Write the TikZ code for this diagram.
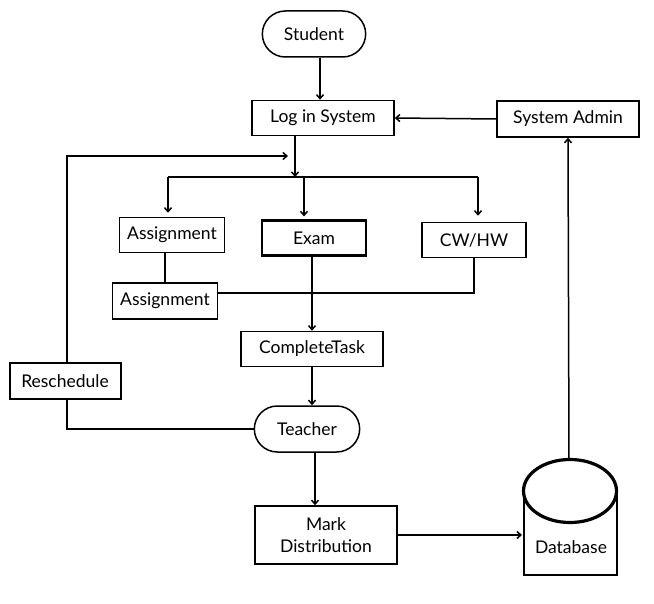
\documentclass[tikz,border=0pt]{standalone}
\usepackage{fontspec}
\setmainfont{Lato}
\usetikzlibrary{shapes.misc,calc}
\tikzset{
  box/.style={draw, line width=1.5pt, minimum height=35pt, inner sep=2pt, font=\fontsize{17.5}{22}\selectfont},
  pill/.style={draw, rounded rectangle, line width=1.5pt, minimum width=110pt, minimum height=46pt, font=\fontsize{17.5}{22}\selectfont},
  arr/.style={->, >={Straight Barb[length=4pt,width=7pt]}, line width=1.5pt},
  con/.style={line width=1.5pt}
}
\usetikzlibrary{arrows.meta}
\begin{document}
\begin{tikzpicture}[x=1pt, y=-1pt]
    \useasboundingbox (0,0) rectangle (654,604);
    % nodes
    \node[pill] (student) at (314,34) {Student};
    \node[box, minimum width=142pt] (login) at (323,118) {Log in System};
    \node[box, minimum width=142pt, minimum height=36pt] (admin) at (568,119) {System Admin};
    \node[box, minimum width=105pt] (asg1) at (172,235) {Assignment};
    \node[box, minimum width=104pt, line width=2.2pt] (exam) at (314,238) {Exam};
    \node[box, minimum width=104pt] (cwhw) at (474,240) {CW/HW};
    \node[box, minimum width=105pt, minimum height=36pt] (asg2) at (165,301) {Assignment};
    \node[box, minimum width=142pt] (task) at (312,349) {CompleteTask};
    \node[box, minimum width=111pt, minimum height=36pt, line width=2pt] (resched) at (65,381) {Reschedule};
    \node[pill, minimum width=112pt] (teacher) at (307,429) {Teacher};
    \node[box, minimum width=142pt, minimum height=58pt, align=center] (mark) at (326,535) {Mark\\Distribution};
    % database
    \draw[line width=2.8pt] (524,491) -- (524,575) -- (617,575) -- (617,491);
    \draw[line width=3.2pt, fill=white] (570,491) ellipse [x radius=46.5, y radius=31.5];
    \coordinate (dbtop) at (569,459);
    \coordinate (dbleft) at (522,536);
    \node[font=\fontsize{17.5}{22}\selectfont] (db) at (571,547) {Database};
    % helper points
    \coordinate (fork) at (295,177);
    \coordinate (merge) at (312,293);
    \coordinate (back) at (288,156);
    % connectors
    \draw[arr] ([xshift=6pt]student.south) -- ([xshift=6pt]student.south |- login.north);
    \draw[arr] (admin.west) -- (login.east);
    \draw[arr] ([xshift=-28pt]login.south) -- (fork);
    \draw[con] ([xshift=-4pt]fork -| asg1.north) -- ([xshift=4pt]fork -| cwhw.north);
    \draw[arr] ([xshift=-4pt]fork -| asg1.north) -- ([xshift=-4pt,yshift=4pt]asg1.north);
    \draw[arr] ([xshift=-10pt]fork -| exam.north) -- ([xshift=-10pt,yshift=3pt]exam.north);
    \draw[arr] ([xshift=4pt]fork -| cwhw.north) -- ([xshift=4pt,yshift=6pt]cwhw.north);
    \draw[con] (asg2.north |- asg1.south) -- (asg2.north);
    \draw[con] (asg2.east |- merge) -- (merge);
    \draw[con] (cwhw.south) |- (merge);
    \draw[arr] (task.north |- exam.south) -- (task.north);
    \draw[arr] (task.south) -- (task.south |- teacher.north);
    \draw[con] (teacher.west) -| ([xshift=2pt]resched.south);
    \draw[arr] ([xshift=2pt]resched.north) |- (back);
    \draw[arr] ([xshift=8pt]teacher.south) -- ([xshift=8pt]teacher.south |- mark.north);
    \draw[arr] (mark.east) -- (mark.east -| dbleft);
    \draw[arr] (dbtop) -- (admin.south);
\end{tikzpicture}
\end{document}
